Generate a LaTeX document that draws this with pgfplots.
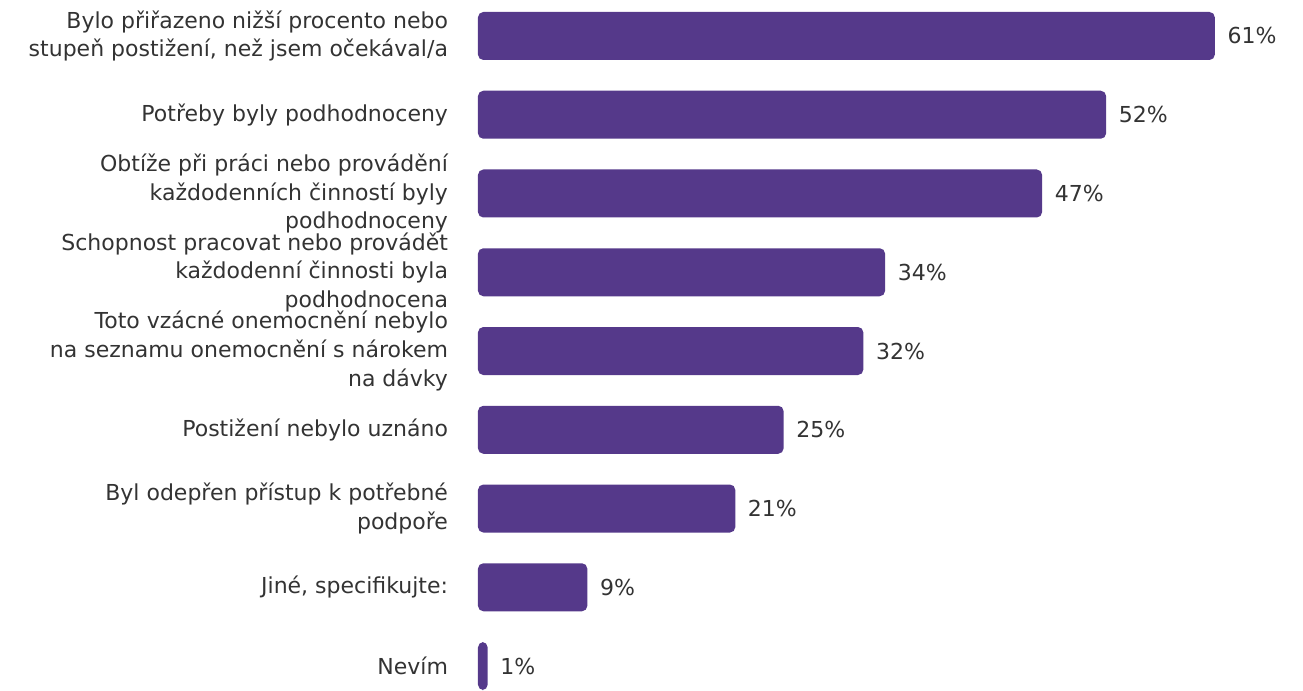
\documentclass[border=0pt]{standalone}
\usepackage{pgfplots}
\pgfplotsset{compat=1.18}
\usepackage{fontspec}
\setmainfont{DejaVu Sans}
\definecolor{barc}{RGB}{85,57,138}
\definecolor{txt}{RGB}{51,51,51}
\begin{document}
\begin{tikzpicture}
\begin{axis}[
  at={(0,0)}, anchor=south west,
  scale only axis,
  width=618.75pt, height=518.25pt,
  xbar, bar width=36pt,
  xmin=0, xmax=68.3,
  ymin=-0.457, ymax=8.317,
  y dir=reverse,
  hide x axis,
  axis y line*=left,
  y axis line style={draw=none},
  major tick length=0pt,
  ytick={0,1,2,3,4,5,6,7,8},
  yticklabels={
    {Bylo přiřazeno nižší procento nebo\\stupeň postižení, než jsem očekával/a},
    {Potřeby byly podhodnoceny},
    {Obtíže při práci nebo provádění\\každodenních činností byly\\podhodnoceny},
    {Schopnost pracovat nebo provádět\\každodenní činnosti byla\\podhodnocena},
    {Toto vzácné onemocnění nebylo\\na seznamu onemocnění s nárokem\\na dávky},
    {Postižení nebylo uznáno},
    {Byl odepřen přístup k potřebné\\podpoře},
    {Jiné, specifikujte:},
    {Nevím}},
  yticklabel style={align=right, font=\fontsize{16.5}{21.5}\selectfont, text=txt, xshift=-19pt},
  point meta=explicit symbolic,
  nodes near coords={\pgfplotspointmeta\%},
  nodes near coords style={font=\fontsize{16.5}{21.5}\selectfont, text=txt, anchor=west, xshift=6pt},
  clip=false,
]
\addplot[fill=barc, draw=none, rounded corners=4pt] coordinates {
  (61,0)[61] (52,1)[52] (46.7,2)[47] (33.7,3)[34] (31.9,4)[32] (25.3,5)[25] (21.3,6)[21] (9.05,7)[9] (0.8,8)[1]};
\end{axis}
\pgfresetboundingbox
\useasboundingbox (-358.5pt,0) rectangle (618.75pt,518.25pt);
\end{tikzpicture}
\end{document}
